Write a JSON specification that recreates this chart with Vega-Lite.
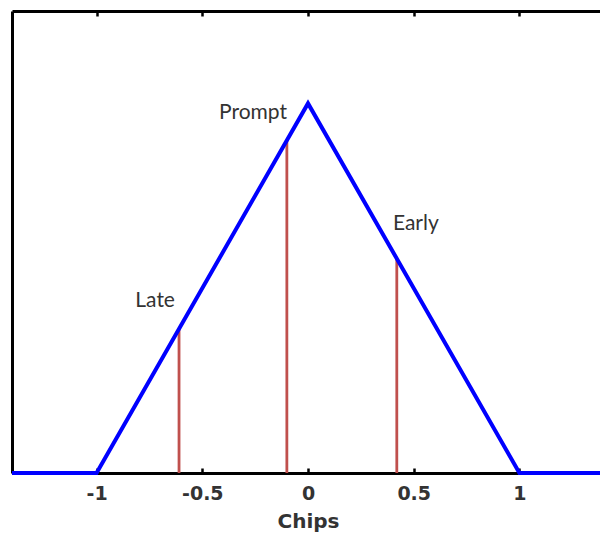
{
  "$schema": "https://vega.github.io/schema/vega-lite/v6.json",
  "autosize": "none",
  "width": 592,
  "height": 462,
  "padding": {"left": 12, "top": 11, "right": 0, "bottom": 66},
  "background": "white",
  "config": {"view": {"stroke": null}},
  "datasets": {
    "tri": [
      {"chips": -1.4, "v": 0},
      {"chips": -1, "v": 0},
      {"chips": 0, "v": 1},
      {"chips": 1, "v": 0},
      {"chips": 1.4, "v": 0}
    ],
    "corr": [
      {"name": "Late", "chips": -0.61, "v": 0.39, "lx": -0.723, "ly": 0.465},
      {"name": "Prompt", "chips": -0.1, "v": 0.9, "lx": -0.26, "ly": 0.973},
      {"name": "Early", "chips": 0.42, "v": 0.58, "lx": 0.51, "ly": 0.673}
    ]
  },
  "resolve": {"axis": {"x": "independent"}},
  "layer": [
    {
      "data": {"name": "corr"},
      "mark": {"type": "rule", "color": "#c0504d", "strokeWidth": 2.8},
      "encoding": {
        "x": {"field": "chips", "type": "quantitative",
          "scale": {"domain": [-1.4, 1.4], "nice": false, "zero": false},
          "axis": {"orient": "top", "values": [-1, -0.5, 0, 0.5, 1], "labels": false, "title": null, "grid": false, "domainColor": "black", "domainWidth": 3, "tickColor": "black", "tickSize": -5, "tickWidth": 2.5}},
        "y": {"field": "v", "type": "quantitative",
          "scale": {"domain": [0, 1.25], "nice": false},
          "axis": {"labels": false, "ticks": false, "grid": false, "title": null, "domainColor": "black", "domainWidth": 3}},
        "y2": {"datum": 0}
      }
    },
    {
      "data": {"name": "tri"},
      "mark": {"type": "line", "color": "#0000ff", "strokeWidth": 4},
      "encoding": {
        "x": {"field": "chips", "type": "quantitative",
          "axis": {"orient": "bottom", "values": [-1, -0.5, 0, 0.5, 1], "labelExpr": "toString(datum.value)", "title": "Chips", "grid": false,
            "domainColor": "black", "domainWidth": 3, "tickColor": "black", "tickSize": -5, "tickWidth": 2.5,
            "labelFont": "DejaVu Sans", "labelFontSize": 19, "labelFontWeight": "bold", "labelColor": "#333333", "labelPadding": 16,
            "titleFont": "DejaVu Sans", "titleFontSize": 20, "titleFontWeight": "bold", "titleColor": "#333333", "titlePadding": 8}},
        "y": {"field": "v", "type": "quantitative"}
      }
    },
    {
      "data": {"name": "corr"},
      "mark": {"type": "text", "font": "Lato", "fontSize": 21, "color": "#333333", "align": "center", "baseline": "middle"},
      "encoding": {
        "x": {"field": "lx", "type": "quantitative",
          "axis": {"orient": "bottom", "labels": false, "ticks": false, "domain": false, "grid": false, "title": null}},
        "y": {"field": "ly", "type": "quantitative"},
        "text": {"field": "name"}
      }
    }
  ]
}
